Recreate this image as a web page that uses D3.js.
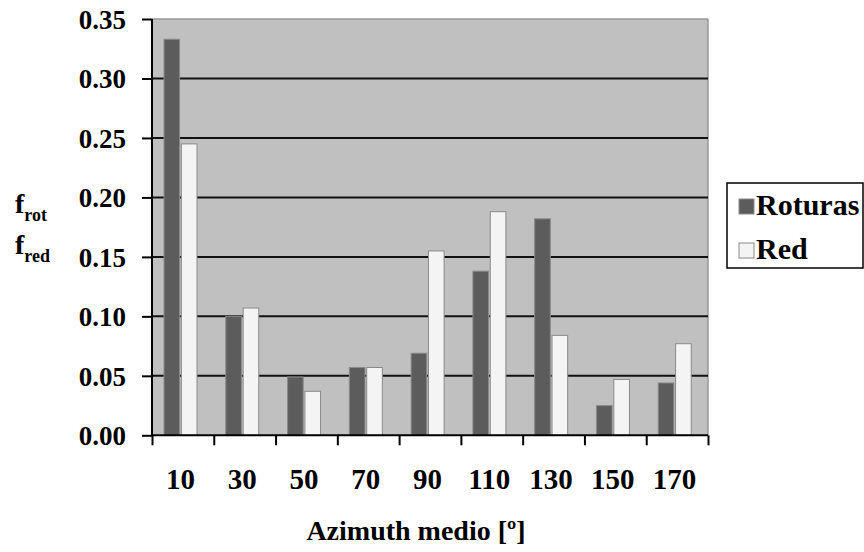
<!DOCTYPE html>
<html><head><meta charset="utf-8">
<script src="https://cdn.jsdelivr.net/npm/d3@7"></script>
</head>
<body style="margin:0">
<svg id="c" width="864" height="552" font-family="Liberation Serif" font-weight="bold"></svg>
<script>
const categories = ["10","30","50","70","90","110","130","150","170"];
const seriesNames = ["Roturas","Red"];
const roturas = [0.333,0.100,0.049,0.057,0.069,0.138,0.182,0.025,0.044];
const red     = [0.245,0.107,0.037,0.057,0.155,0.188,0.084,0.047,0.077];
const yTicks  = [0,0.05,0.10,0.15,0.20,0.25,0.30,0.35];
const colors  = {Roturas:"#5c5c5c", Red:"#f4f4f4"};

const svg = d3.select("#c");
const L=152, R=708, T=19, B=435.3;
const x = d3.scaleBand().domain(categories).range([L,R]).padding(0);
const xSub = d3.scaleBand().domain(seriesNames).range([12,45]).paddingInner(0.1);
const y = d3.scaleLinear().domain([0,0.35]).range([B,T]);
const xIdx = d3.scaleLinear().domain([0,categories.length]).range([L,R]);
const txt = (sel,size)=>sel.attr("font-family","Liberation Serif").style("font-family",'"Liberation Serif"')
  .style("font-weight","bold").style("font-size",size+"px").attr("fill","#000");

svg.append("rect").attr("x",L).attr("y",T).attr("width",R-L).attr("height",B-T).attr("fill","#c0c0c0");
svg.append("line").attr("x1",L).attr("x2",R).attr("y1",T).attr("y2",T).attr("stroke","#999").attr("stroke-width",1.5);
svg.append("line").attr("x1",R).attr("x2",R).attr("y1",T).attr("y2",B).attr("stroke","#999").attr("stroke-width",1.5);

svg.append("g").selectAll("line").data(yTicks.filter(d=>d>0 && d<0.35)).join("line")
  .attr("x1",L).attr("x2",R).attr("y1",d=>y(d)).attr("y2",d=>y(d))
  .attr("stroke","#111").attr("stroke-width",2);

const data = categories.map((c,i)=>({c, vals:[{s:"Roturas",v:roturas[i]},{s:"Red",v:red[i]}]}));
const g = svg.append("g").selectAll("g").data(data).join("g").attr("transform",d=>`translate(${x(d.c)},0)`);
g.selectAll("rect").data(d=>d.vals).join("rect")
  .attr("x",d=>xSub(d.s)).attr("width",xSub.bandwidth())
  .attr("y",d=>y(d.v)).attr("height",d=>B-y(d.v))
  .attr("fill",d=>colors[d.s]).attr("stroke","#8a8a8a").attr("stroke-width",1);

const ya = svg.append("g").attr("transform",`translate(${L},0)`)
  .call(d3.axisLeft(y).tickValues(yTicks).tickFormat(d3.format(".2f")).tickSize(10).tickPadding(16));
ya.attr("font-family","Liberation Serif").attr("font-size",null);
ya.select(".domain").attr("stroke","#000").attr("stroke-width",2).attr("d",`M0,${T}V${B}`);
ya.selectAll(".tick line").attr("stroke","#000").attr("stroke-width",2);
txt(ya.selectAll(".tick text"),27).attr("dy","0.35em");

const xa = svg.append("g").attr("transform",`translate(0,${B})`)
  .call(d3.axisBottom(xIdx).tickValues(d3.range(categories.length+1)).tickSize(10).tickFormat(""));
xa.select(".domain").attr("stroke","#000").attr("stroke-width",2).attr("d",`M${L},0H${R}`);
xa.selectAll(".tick line").attr("stroke","#000").attr("stroke-width",2);

const xl = svg.append("g").attr("transform",`translate(-2.5,${B})`)
  .call(d3.axisBottom(x).tickSize(0).tickPadding(33));
xl.attr("font-family","Liberation Serif").attr("font-size",null);
xl.select(".domain").remove();
txt(xl.selectAll(".tick text"),29).attr("dy","0.71em");

txt(svg.append("text"),28).attr("x",416).attr("y",540).attr("text-anchor","middle").text("Azimuth medio [º]");
const yt1 = txt(svg.append("text"),28).attr("x",15).attr("y",213);
yt1.append("tspan").text("f");
yt1.append("tspan").attr("dy",8).style("font-size","18px").text("rot");
const yt2 = txt(svg.append("text"),28).attr("x",15).attr("y",254);
yt2.append("tspan").text("f");
yt2.append("tspan").attr("dy",8).style("font-size","18px").text("red");

const lg = svg.append("g");
lg.append("rect").attr("x",727).attr("y",183).attr("width",136).attr("height",85).attr("fill","#fff").attr("stroke","#000").attr("stroke-width",1.5);
const li = lg.selectAll("g").data(seriesNames).join("g").attr("transform",(d,i)=>`translate(739,${199+i*44})`);
li.append("rect").attr("width",15).attr("height",15).attr("fill",d=>colors[d]).attr("stroke","#8a8a8a");
txt(li.append("text"),30).attr("x",17).attr("y",16).text(d=>d);
</script></body></html>
